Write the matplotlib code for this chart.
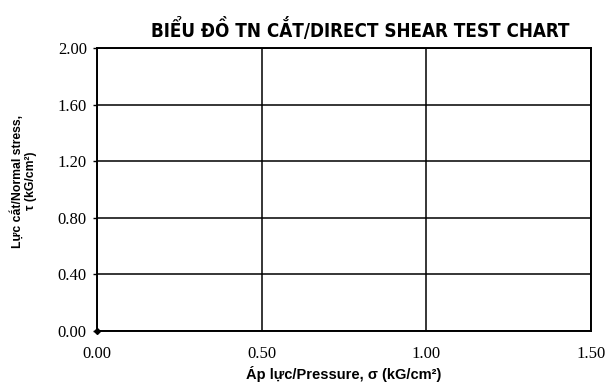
import matplotlib.pyplot as plt

# measured points (none recorded yet except origin)
sigma = [0.0]
tau = [0.0]

x_ticks = [0.0, 0.5, 1.0, 1.5]
y_ticks = [0.0, 0.4, 0.8, 1.2, 1.6, 2.0]

fig = plt.figure(figsize=(6.11, 3.87), dpi=100)
ax = fig.add_axes([0.158, 0.145, 0.81, 0.73])

ax.plot(sigma, tau, marker="D", color="k", markersize=3, linestyle="none", clip_on=False)

ax.set_xlim(0, 1.5)
ax.set_ylim(0, 2.0)
ax.set_xticks(x_ticks)
ax.set_yticks(y_ticks)
ax.set_xticklabels(["%.2f" % v for v in x_ticks], family="Liberation Serif", fontsize=12)
ax.set_yticklabels(["%.2f" % v for v in y_ticks], family="Liberation Serif", fontsize=12)
ax.tick_params(axis="x", length=0, pad=11)
ax.tick_params(axis="y", length=3, width=1, pad=4)
ax.grid(True, color="k", linewidth=1.1)
for s in ax.spines.values():
    s.set_linewidth(1.4)

ax.set_xlabel("Áp lực/Pressure, σ (kG/cm²)", family="Liberation Sans",
              fontweight="bold", fontsize=10.5, labelpad=3)
ax.set_ylabel("Lực cắt/Normal stress,\nτ (kG/cm²)", family="Liberation Sans",
              fontweight="bold", fontsize=8.8)
ax.yaxis.set_label_coords(-0.12, 0.53)

fig.text(0.59, 0.925, "BIỂU ĐỒ TN CẮT/DIRECT SHEAR TEST CHART",
         family="DejaVu Sans", fontstretch="condensed", fontweight="bold",
         fontsize=13.5, ha="center", va="center")

fig.savefig("out.png", dpi=100)
